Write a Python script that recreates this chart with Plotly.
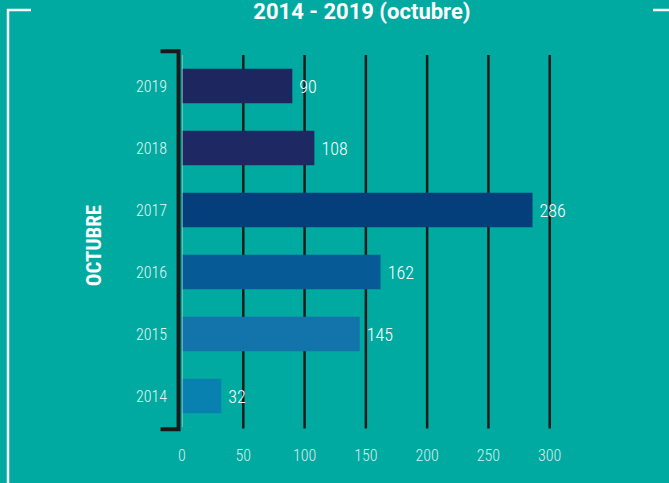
import plotly.graph_objects as go

years = ["2014", "2015", "2016", "2017", "2018", "2019"]
values = [32, 145, 162, 286, 108, 90]
bar_colors = ["#0880B0", "#1274AA", "#065B96", "#043F7B", "#1E2964", "#1E2660"]
x_ticks = [0, 50, 100, 150, 200, 250, 300]

BG = "#00AAA0"
FONT = "Roboto Condensed, DejaVu Sans Condensed, Roboto, sans-serif"
TFONT = "Roboto, sans-serif"

fig = go.Figure()
fig.add_trace(go.Bar(
    y=years, x=values, orientation="h",
    marker=dict(color=bar_colors, line=dict(width=0)),
    width=0.56,
    text=[" " + str(v) for v in values],
    textposition="outside",
    textfont=dict(color="white", size=18, family=FONT, weight=300),
    cliponaxis=False,
    hoverinfo="skip",
))

fig.update_layout(
    width=669, height=483,
    paper_bgcolor=BG, plot_bgcolor=BG,
    margin=dict(l=182, r=58, t=55, b=56),
    showlegend=False,
    bargap=0.44,
    title=dict(text="<b>2014 - 2019 (octubre)</b>", x=0.541, xanchor="center",
               y=0.977, yanchor="middle",
               font=dict(color="white", size=22, family=TFONT)),
    xaxis=dict(range=[0, 350], tickvals=x_ticks, ticktext=[str(t) for t in x_ticks],
               showgrid=False, zeroline=False, showline=False, ticks="",
               tickfont=dict(color="#D5EFEC", size=16, family=FONT, weight=300),
               ticklabelstandoff=17),
    yaxis=dict(range=[-0.5, 5.5], categoryorder="array", categoryarray=years,
               showgrid=False, zeroline=False, showline=False, ticks="",
               tickfont=dict(color="#E6F5F3", size=16, family=FONT, weight=300),
               ticklabelstandoff=14),
)

# vertical black gridlines (50..300)
for t in x_ticks[1:]:
    fig.add_shape(type="line", xref="x", yref="paper", x0=t, x1=t, y0=-0.004, y1=1.0,
                  line=dict(color="#1A1A1A", width=2.5), layer="below")

# thin light zero line
fig.add_shape(type="line", xref="x", yref="paper", x0=0, x1=0, y0=0, y1=1,
              line=dict(color="#C8D8D6", width=1), layer="above")

# black bracket on the left
fig.add_shape(type="path", xref="paper", yref="paper",
              path="M -0.05,1.01 L -0.008,1.01 L -0.008,-0.006 L -0.05,-0.006",
              line=dict(color="#1A1A1A", width=4), layer="above")

fig.add_annotation(text="<b>OCTUBRE</b>", textangle=-90, xref="paper", yref="paper",
                   x=-0.205, y=0.486, xanchor="center", yanchor="middle", showarrow=False,
                   font=dict(color="white", size=21, family=FONT))

# frame drawn in pixel terms via paper coords
W_plot = 669 - 182 - 58
H_plot = 483 - 55 - 56
def px(x):
    return (x - 182) / W_plot
def py(y):
    return (483 - 56 - y) / H_plot

fig.add_shape(type="path", xref="paper", yref="paper",
              path=f"M {px(31)},{py(10)} L {px(8)},{py(10)} L {px(8)},{py(490)}",
              line=dict(color="white", width=2.5), layer="above")
fig.add_shape(type="line", xref="paper", yref="paper",
              x0=px(653), x1=px(675), y0=py(10), y1=py(10),
              line=dict(color="white", width=2.5), layer="above")

fig.write_html("out.html", config={"displayModeBar": False},
               post_script="document.body.style.margin='0';")
